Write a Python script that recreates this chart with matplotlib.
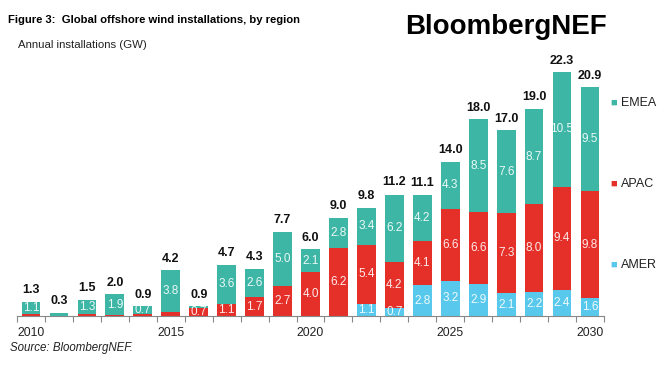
import numpy as np
import matplotlib.pyplot as plt

plt.rcParams['font.family'] = ['Liberation Sans', 'DejaVu Sans']

# Daten (GW) pro Jahr
years = list(range(2010, 2031))
emea = [1.1, 0.3, 1.3, 1.9, 0.7, 3.8, 0.2, 3.6, 2.6, 5.0, 2.1, 2.8, 3.4, 6.2, 4.2, 4.3, 8.5, 7.6, 8.7, 10.5, 9.5]
apac = [0.2, 0.0, 0.2, 0.1, 0.2, 0.4, 0.7, 1.1, 1.7, 2.7, 4.0, 6.2, 5.4, 4.2, 4.1, 6.6, 6.6, 7.3, 8.0, 9.4, 9.8]
amer = [0.0, 0.0, 0.0, 0.0, 0.0, 0.0, 0.0, 0.0, 0.0, 0.0, 0.0, 0.0, 1.1, 0.7, 2.8, 3.2, 2.9, 2.1, 2.2, 2.4, 1.6]
totals = [1.3, 0.3, 1.5, 2.0, 0.9, 4.2, 0.9, 4.7, 4.3, 7.7, 6.0, 9.0, 9.8, 11.2, 11.1, 14.0, 18.0, 17.0, 19.0, 22.3, 20.9]
tick_years = [2010, 2015, 2020, 2025, 2030]

C_EMEA = '#3db6a5'
C_APAC = '#e5302a'
C_AMER = '#58c9ec'

W, H = 666, 365
fig = plt.figure(figsize=(W / 100, H / 100), dpi=100)
# Achse in Pixeln: links 17, Basislinie bei y=316, 21 Balken a ~27.95 px
ax = fig.add_axes([17 / W, 49 / H, 587 / W, 273.5 / H])

x = np.arange(len(years))
bw = 0.67
amer_a = np.array(amer)
apac_a = np.array(apac)
emea_a = np.array(emea)

ax.bar(x, amer_a, bw, color=C_AMER, label='AMER')
ax.bar(x, apac_a, bw, bottom=amer_a, color=C_APAC, label='APAC')
ax.bar(x, emea_a, bw, bottom=amer_a + apac_a, color=C_EMEA, label='EMEA')

# Werte in den Segmenten
for i in x:
    base = 0
    for vals in (amer_a, apac_a, emea_a):
        v = vals[i]
        if v >= 0.6:
            ax.text(i, base + v / 2, f"{v:.1f}", ha='center', va='center',
                    color='white', fontsize=8.5, alpha=0.9)
        base += v
    ax.text(i, max(totals[i], amer_a[i] + apac_a[i] + emea_a[i]) + 0.5, f"{totals[i]:.1f}",
            ha='center', va='bottom', fontsize=9, fontweight='bold', color='#111111')

ax.set_xlim(-0.5, len(years) - 0.5)
ax.set_ylim(0, 25)
for s in ('top', 'right', 'left'):
    ax.spines[s].set_visible(False)
ax.spines['bottom'].set_color('#888888')
ax.spines['bottom'].set_linewidth(0.8)
ax.set_yticks([])
ax.set_xticks([years.index(y) for y in tick_years])
ax.set_xticklabels([str(y) for y in tick_years], fontsize=8.8, color='#222222')
ax.set_xticks(np.arange(-0.5, len(years), 1), minor=True)
ax.tick_params(axis='x', which='major', length=0, pad=8)
ax.tick_params(axis='x', which='minor', length=4, color='#888888', width=0.8)

# Legende rechts
leg_items = [('EMEA', C_EMEA, 103), ('APAC', C_APAC, 184), ('AMER', C_AMER, 265)]
for name, col, yp in leg_items:
    fig.text(610 / W, 1 - yp / H, '\u25a0', color=col, fontsize=8, va='center', ha='left')
    fig.text(621 / W, 1 - yp / H, name, fontsize=9, va='center', ha='left', color='#222222')

fig.text(8 / W, 1 - 20 / H, 'Figure 3:  Global offshore wind installations, by region',
         fontsize=8.1, fontweight='bold', va='center', ha='left')
fig.text(18 / W, 1 - 45 / H, 'Annual installations (GW)', fontsize=8.2, va='center', ha='left',
         color='#222222')
fig.text(405 / W, 1 - 27 / H, 'BloombergNEF', fontsize=20, fontweight='bold', va='center',
         ha='left')
fig.text(10 / W, 1 - 348 / H, 'Source: BloombergNEF.', fontsize=8.3, style='italic',
         va='center', ha='left', color='#222222')

fig.savefig('out.png', dpi=100)
